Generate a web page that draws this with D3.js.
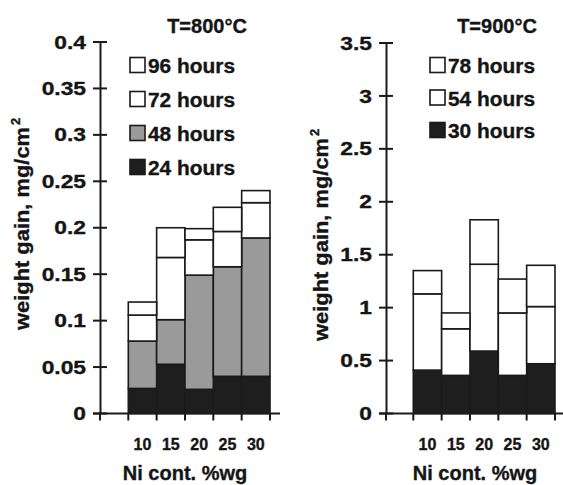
<!DOCTYPE html>
<html>
<head>
<meta charset="utf-8">
<script src="https://cdn.jsdelivr.net/npm/d3@7/dist/d3.min.js"></script>
<style>
  body { margin: 0; background: #fff; }
  svg text { font-family: Arial, 'Liberation Sans', sans-serif; font-weight: bold; fill: #151515; stroke: #151515; stroke-width: 0.35px; }
  .axis path { stroke: #1a1a1a; stroke-width: 2; }
  .bar { stroke: #1a1a1a; stroke-width: 1.6; }
</style>
</head>
<body>
<svg id="svg-chart" width="563" height="485"></svg>
<script>
//////////////////////////////////////////////////////////////////////////////////////////
// Data
//////////////////////////////////////////////////////////////////////////////////////////
var categories = ['10', '15', '20', '25', '30']

// cumulative weight gain (mg/cm2) after each exposure time, T=800°C
var series_800 = ['24 hours', '48 hours', '72 hours', '96 hours']
var values_800 = [
  [0.027, 0.053, 0.026, 0.040, 0.040],
  [0.078, 0.101, 0.149, 0.158, 0.189],
  [0.106, 0.168, 0.187, 0.196, 0.227],
  [0.120, 0.200, 0.199, 0.222, 0.240]
]
var ticks_800 = [0, 0.05, 0.1, 0.15, 0.2, 0.25, 0.3, 0.35, 0.4]

// T=900°C
var series_900 = ['30 hours', '54 hours', '78 hours']
var values_900 = [
  [0.41, 0.36, 0.59, 0.36, 0.47],
  [1.13, 0.80, 1.41, 0.95, 1.01],
  [1.35, 0.95, 1.83, 1.27, 1.40]
]
var ticks_900 = [0, 0.5, 1, 1.5, 2, 2.5, 3, 3.5]

//////////////////////////////////////////////////////////////////////////////////////////
// Layout
//////////////////////////////////////////////////////////////////////////////////////////
var panels = [
  {
    'id': 'p800', 'title': 'T=800°C', 'series': series_800, 'values': values_800,
    'ticks': ticks_800, 'fill': ['#1e1e1e', '#9a9a9a', '#fff', '#fff'],
    'axis-x': 100, 'band-l': 128.3, 'band-r': 270, 'axis-end': 280,
    'y-top': 42, 'y-zero': 413.5,
    'title-x': 207, 'legend-x': 130, 'legend-y': 73, 'legend-h': 34,
    'ylab-x': 29, 'ylab-y': 330, 'xlab-x': 185
  },
  {
    'id': 'p900', 'title': 'T=900°C', 'series': series_900, 'values': values_900,
    'ticks': ticks_900, 'fill': ['#1e1e1e', '#fff', '#fff'],
    'axis-x': 386, 'band-l': 413.3, 'band-r': 555, 'axis-end': 563,
    'y-top': 43, 'y-zero': 413.5,
    'title-x': 497, 'legend-x': 430, 'legend-y': 73, 'legend-h': 32.5,
    'ylab-x': 328, 'ylab-y': 341, 'xlab-x': 475
  }
]

var ink = '#1a1a1a'
var svg = d3.select('#svg-chart')

panels.forEach(function(p) { draw_panel(p) })

//////////////////////////////////////////////////////////////////////////////////////////
// Panel
//////////////////////////////////////////////////////////////////////////////////////////
function draw_panel(p) {
  var g = svg.append('g').attr('id', 'g-' + p['id'])
  var ticks = p['ticks']

  var x = d3.scaleBand()
    .domain(categories)
    .range([p['band-l'], p['band-r']])
    .padding(0)

  var y = d3.scaleLinear()
    .domain([0, ticks[ticks.length - 1]])
    .range([p['y-zero'], p['y-top']])

  draw_bars()
  draw_x_axis()
  draw_y_axis()
  draw_labels()
  draw_legend()

  function draw_bars() {
    p['values'].forEach(function(vals, s) {
      g.append('g')
        .selectAll('rect')
        .data(vals)
        .enter()
        .append('rect')
        .attr('class', 'bar')
        .attr('x', function(d, i) { return x(categories[i]) })
        .attr('width', x.bandwidth())
        .attr('y', function(d) { return y(d) })
        .attr('height', function(d, i) {
          var prev = s == 0 ? 0 : p['values'][s - 1][i]
          return y(prev) - y(d)
        })
        .attr('fill', p['fill'][s])
    })
  }

  function draw_x_axis() {
    var ax = g.append('g')
      .attr('class', 'axis')
      .attr('transform', 'translate(0,' + y(0) + ')')
      .call(d3.axisBottom(x).tickSize(0).tickPadding(25))
    ax.select('.domain').remove()
    ax.selectAll('text').style('font-size', '16px')

    var bounds = [p['axis-x']].concat(categories.map(function(c) { return x(c) }))
    bounds.push(x(categories[categories.length - 1]) + x.bandwidth())

    g.append('line')
      .attr('x1', p['axis-x'] - 7)
      .attr('x2', p['axis-end'])
      .attr('y1', y(0))
      .attr('y2', y(0))
      .attr('stroke', ink)
      .attr('stroke-width', 2)

    g.selectAll('.xtick')
      .data(bounds)
      .enter()
      .append('line')
      .attr('class', 'xtick')
      .attr('x1', function(d) { return d })
      .attr('x2', function(d) { return d })
      .attr('y1', y(0))
      .attr('y2', y(0) + 7)
      .attr('stroke', ink)
      .attr('stroke-width', 2)
  }

  function draw_y_axis() {
    var ax = g.append('g')
      .attr('class', 'axis')
      .attr('transform', 'translate(' + p['axis-x'] + ',0)')
      .call(d3.axisLeft(y)
        .tickValues(ticks)
        .tickSizeInner(7)
        .tickSizeOuter(0)
        .tickPadding(7)
        .tickFormat(function(d) { return String(d) }))
    ax.selectAll('.tick line').remove()
    ax.selectAll('.tick text')
      .style('font-size', '19px')
      .attr('lengthAdjust', 'spacingAndGlyphs')
      .attr('textLength', function() { return this.getComputedTextLength() * 1.2 })

    // ticks cross the axis on both sides
    g.selectAll('.ytick')
      .data(ticks)
      .enter()
      .append('line')
      .attr('class', 'ytick')
      .attr('x1', p['axis-x'] - 7)
      .attr('x2', p['axis-x'] + 7)
      .attr('y1', function(d) { return y(d) })
      .attr('y2', function(d) { return y(d) })
      .attr('stroke', ink)
      .attr('stroke-width', 2)
  }

  function draw_labels() {
    g.append('text')
      .attr('x', p['title-x'])
      .attr('y', 33)
      .attr('text-anchor', 'middle')
      .style('font-size', '20px')
      .text(p['title'])

    g.append('text')
      .attr('x', p['xlab-x'])
      .attr('y', 480)
      .attr('text-anchor', 'middle')
      .style('font-size', '20px')
      .text('Ni cont. %wg')

    var t = g.append('text')
      .attr('transform', 'translate(' + p['ylab-x'] + ',' + p['ylab-y'] + ') rotate(-90)')
      .style('font-size', '20px')
    t.append('tspan')
      .attr('textLength', 203)
      .attr('lengthAdjust', 'spacingAndGlyphs')
      .text('weight gain, mg/cm')
    t.append('tspan')
      .attr('dy', -9)
      .attr('dx', 2)
      .style('font-size', '13px')
      .text('2')
  }

  function draw_legend() {
    var n = p['series'].length
    var rows = d3.range(n).map(function(i) { return n - 1 - i })

    var lg = g.append('g')
      .selectAll('g')
      .data(rows)
      .enter()
      .append('g')
      .attr('transform', function(d, i) {
        return 'translate(' + p['legend-x'] + ',' + (p['legend-y'] + i * p['legend-h']) + ')'
      })

    lg.append('rect')
      .attr('class', 'bar')
      .attr('x', 0)
      .attr('y', -15.5)
      .attr('width', 15)
      .attr('height', 15)
      .attr('fill', function(s) { return p['fill'][s] })

    lg.append('text')
      .attr('x', 18)
      .attr('y', 0)
      .attr('textLength', 87)
      .attr('lengthAdjust', 'spacingAndGlyphs')
      .style('font-size', '20px')
      .text(function(s) { return p['series'][s] })
  }
}
</script>
</body>
</html>
